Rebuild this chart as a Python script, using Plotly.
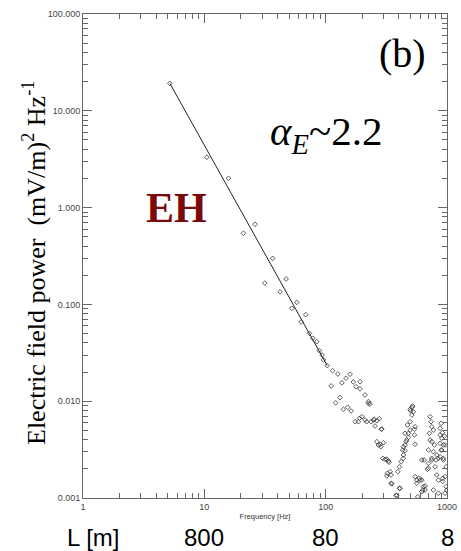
import math
import plotly.graph_objects as go

# Spectrum points (frequency in Hz, power in (mV/m)^2/Hz)
freq = [5.2, 10.5, 15.8, 26.2, 21.0, 36.6, 31.5, 47.2, 42.1, 57.8, 52.6, 68.5, 62.7, 73.4, 78.3, 84.5,
        88.7, 93.4, 95.7, 103, 114, 126, 159, 147, 136, 169, 111, 178, 192, 211, 131, 225, 232, 121,
        140, 152, 162, 199, 190, 175, 218, 237, 247, 264, 255, 264, 272, 290, 281, 299, 296, 309, 329,
        340, 319, 351, 410, 380, 405, 419, 437, 432, 451, 466, 451, 481, 497, 472, 497, 513, 503, 513,
        522, 497, 546, 539, 564, 592, 620, 546, 639, 660, 620, 574, 620, 703, 726, 739, 749, 773, 716,
        726, 749, 787, 703, 773, 824, 749, 689, 798, 824, 849, 877, 906, 877, 934, 906, 877, 934, 894,
        877, 964, 984, 773, 849, 996, 546, 917, 952, 964, 894, 934, 849, 984, 813, 923, 923, 964, 749,
        648, 703, 528, 539, 481, 460, 437, 451, 437, 393, 346, 405, 385, 600, 564, 660, 631, 186, 211,
        252, 277, 288, 285, 319, 333, 323, 346, 225, 192]
power = [19.2, 3.31, 2.01, 0.673, 0.543, 0.299, 0.166, 0.183, 0.135, 0.105, 0.0912, 0.0783, 0.0658,
         0.0503, 0.0447, 0.0412, 0.0333, 0.030, 0.0267, 0.0233, 0.0207, 0.0191, 0.0190, 0.0173, 0.0155,
         0.0158, 0.0144, 0.0141, 0.0134, 0.0116, 0.0109, 0.0099, 0.00935, 0.00964, 0.00824, 0.00865,
         0.00792, 0.00692, 0.00666, 0.00614, 0.00614, 0.00614, 0.0064, 0.0063, 0.00554, 0.00382,
         0.00353, 0.00516, 0.00359, 0.00372, 0.00257, 0.00251, 0.00241, 0.00187, 0.00169, 0.0014,
         0.00126, 0.00107, 0.0021, 0.00237, 0.00278, 0.00313, 0.00353, 0.00397, 0.00466, 0.00466,
         0.00504, 0.00568, 0.00614, 0.0072, 0.00798, 0.00865, 0.00891, 0.00824, 0.00545, 0.00448,
         0.00153, 0.0016, 0.00153, 0.00166, 0.00131, 0.00121, 0.00116, 0.00103, 0.00247, 0.00203,
         0.00692, 0.00614, 0.00545, 0.00504, 0.00466, 0.00397, 0.00382, 0.00353, 0.00313, 0.00301,
         0.00278, 0.00247, 0.00198, 0.0021, 0.00173, 0.00153, 0.00448, 0.00414, 0.00367, 0.00353,
         0.00313, 0.00267, 0.00247, 0.00591, 0.00525, 0.00166, 0.00131, 0.00121, 0.00112, 0.00121,
         0.00359, 0.00473, 0.00436, 0.00353, 0.00313, 0.00257, 0.00257, 0.0021, 0.00247, 0.0016,
         0.00148, 0.00112, 0.00257, 0.00247, 0.00228, 0.00778, 0.00513, 0.00424, 0.00382, 0.00339,
         0.00308, 0.00257, 0.00187, 0.00142, 0.00126, 0.00106, 0.00153, 0.00142, 0.00133, 0.00121,
         0.00614, 0.0064, 0.0065, 0.0066, 0.00513, 0.00339, 0.00251, 0.00234, 0.0018, 0.00173, 0.0095,
         0.0159]

# Power-law fit line end points
fit_freq = [5.2, 103]
fit_power = [19.2, 0.0233]

x_tickvals = [1, 10, 100, 1000]
x_ticktext = ["1", "10", "100", "1000"]
y_tickvals = [0.001, 0.01, 0.1, 1, 10, 100]
y_ticktext = ["0.001", "0.010", "0.100", "1.000", "10.000", "100.000"]
L_labels = ["800", "80", "8"]
L_positions = [10, 100, 1000]

# minor (2..9) tick positions between the decades
x_minor = [m * d for d in x_tickvals[:-1] for m in range(2, 10)]
y_minor = [m * d for d in y_tickvals[:-1] for m in range(2, 10)]

fig = go.Figure()
fig.add_trace(go.Scatter(x=fit_freq, y=fit_power, mode="lines",
                         line=dict(color="#222", width=1), showlegend=False))
fig.add_trace(go.Scatter(x=freq, y=power, mode="markers",
                         marker=dict(symbol="diamond-open", size=3.6, color="#333",
                                     line=dict(width=0.8, color="#333")),
                         showlegend=False))
# invisible trace that anchors the frame axes carrying the minor ticks
fig.add_trace(go.Scatter(x=fit_freq, y=fit_power, xaxis="x2", yaxis="y2", mode="markers",
                         marker=dict(opacity=0), hoverinfo="skip", showlegend=False))

def axis_style(**kw):
    d = dict(type="log", showgrid=False, zeroline=False, showline=True, automargin=False,
             linecolor="#666", linewidth=1, ticks="inside",
             ticklen=9, tickcolor="#666", tickwidth=1, tickmode="array",
             tickfont=dict(family="Liberation Sans", size=9, color="#444"))
    d.update(kw)
    return d

xa = axis_style(range=[0, 3], tickvals=x_tickvals, ticktext=x_ticktext, mirror="ticks",
                title=dict(text="Frequency [Hz]", font=dict(family="Liberation Sans", size=7.5,
                                                            color="#333"), standoff=2))
ya = axis_style(range=[-3, 2], tickvals=y_tickvals, ticktext=y_ticktext, mirror="ticks")
# minor ticks (both sides via mirror)
xa2 = axis_style(range=[0, 3], tickvals=x_minor, ticklen=5, showticklabels=False,
                 overlaying="x", anchor="y2", mirror="ticks")
ya2 = axis_style(range=[-3, 2], tickvals=y_minor, ticklen=5, showticklabels=False,
                 overlaying="y", anchor="x2", mirror="ticks")

ann = []
ann.append(dict(text="(b)", x=402, y=54, font=dict(family="Liberation Serif", size=40, color="black")))
ann.append(dict(text="<i>α<sub>E</sub></i>~2.2", x=326, y=134,
                font=dict(family="Liberation Serif", size=41, color="black")))
ann.append(dict(text="<b>EH</b>", x=176, y=208,
                font=dict(family="Liberation Serif", size=42, color="#7a0a0a")))
ann.append(dict(text="Electric field power  (mV/m)<sup>2</sup> Hz<sup>-1</sup>", x=34, y=263,
                textangle=-90, font=dict(family="Liberation Serif", size=26, color="black")))
ann.append(dict(text="L [m]", x=93, y=537, font=dict(family="Liberation Sans", size=24, color="black")))

W, H = 461, 551
L, R, T, B = 83, 14, 14, 53
out = []
for a in ann:
    px, py = a.pop("x"), a.pop("y")
    out.append(dict(xref="paper", yref="paper", x=(px - L) / (W - L - R), y=(H - B - py) / (H - T - B),
                    xanchor="center", yanchor="middle", showarrow=False, **a))
for lab, pos in zip(L_labels, L_positions):
    out.append(dict(xref="x", yref="paper", x=math.log10(pos), y=(H - B - 537) / (H - T - B),
                    text=lab, xanchor="center", yanchor="middle", showarrow=False,
                    font=dict(family="Liberation Sans", size=24, color="black")))

fig.update_layout(width=W, height=H, margin=dict(l=L, r=R, t=T, b=B, autoexpand=False),
                  paper_bgcolor="white", plot_bgcolor="white", annotations=out,
                  xaxis=xa, yaxis=ya, xaxis2=xa2, yaxis2=ya2)
fig.write_html("out.html")
